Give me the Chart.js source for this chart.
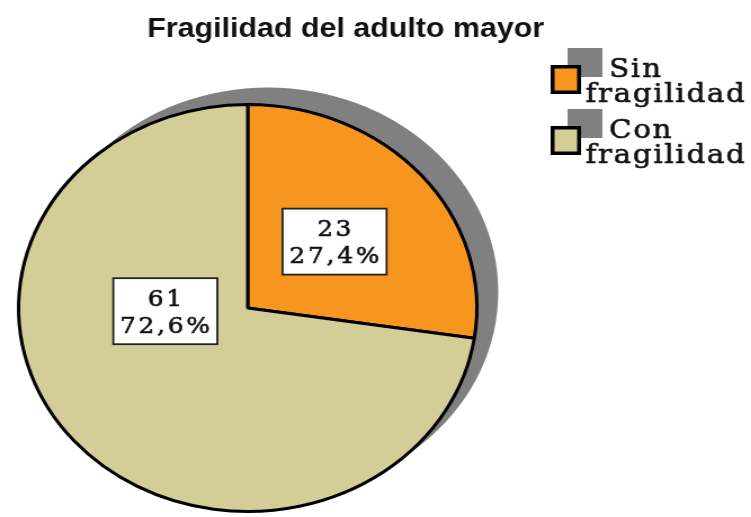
<!DOCTYPE html>
<html>
<head>
<meta charset="utf-8">
<script src="https://cdn.jsdelivr.net/npm/chart.js@4.4.0/dist/chart.umd.min.js"></script>
<style>
  html, body { margin: 0; padding: 0; background: #fff; overflow: hidden; }
  /* the reference is stretched sideways, so the whole chart is too */
  #wrap { width: 667px; height: 517px; transform: scaleX(1.126); transform-origin: 0 0; }
</style>
</head>
<body>
<div id="wrap"><canvas id="fragChart"></canvas></div>
<script>
const chartTitle = 'Fragilidad del adulto mayor';
const categories = ['Sin fragilidad', 'Con fragilidad'];
const counts = [23, 61];
const sliceColors = ['#F7961E', '#D3CD98'];

const shadowGrey = '#808080';
const serif = '"DejaVu Serif", serif';

// where each value box sits: fraction of the radius, angle (null = middle of slice)
const labelPlacement = [
    { frac: 0.5, angle: null },
    { frac: 0.36, angle: 177.5 }
];

function pctText(v) {
    const total = counts.reduce((a, b) => a + b, 0);
    return (v / total * 100).toFixed(1).replace('.', ',') + '%';
}

// text a bit heavier than DejaVu Serif Book
function heavyText(ctx, t, x, y) {
    ctx.fillText(t, x, y);
    ctx.strokeText(t, x, y);
}

const shadowPlugin = {
    id: 'pieShadow',
    beforeDatasetsDraw(chart) {
        const arc = chart.getDatasetMeta(0).data[0];
        if (!arc) return;
        const ctx = chart.ctx;
        ctx.save();
        ctx.fillStyle = shadowGrey;
        ctx.beginPath();
        ctx.arc(arc.x + 18, arc.y - 16, arc.outerRadius + 1, 0, Math.PI * 2);
        ctx.fill();
        ctx.restore();
    }
};

const extrasPlugin = {
    id: 'extras',
    afterDraw(chart) {
        const ctx = chart.ctx;
        ctx.save();

        // title
        ctx.fillStyle = '#111';
        ctx.font = 'bold 27px "Liberation Sans", Arial, sans-serif';
        ctx.textAlign = 'center';
        ctx.textBaseline = 'alphabetic';
        ctx.fillText(chartTitle, 307, 37);

        // value boxes
        const meta = chart.getDatasetMeta(0);
        ctx.font = '22px ' + serif;
        ctx.letterSpacing = '2.5px';
        meta.data.forEach((arc, i) => {
            const p = labelPlacement[i];
            const mid = p.angle === null ? (arc.startAngle + arc.endAngle) / 2 : p.angle * Math.PI / 180;
            const r = arc.outerRadius * p.frac;
            const cx = arc.x + Math.cos(mid) * r;
            const cy = arc.y + Math.sin(mid) * r;
            const lines = [String(counts[i]), pctText(counts[i])];
            const w = Math.max(...lines.map(t => ctx.measureText(t).width)) + 10;
            const h = 66;
            ctx.fillStyle = '#fff';
            ctx.fillRect(cx - w / 2, cy - h / 2, w, h);
            ctx.strokeStyle = '#222';
            ctx.lineWidth = 1.8;
            ctx.strokeRect(cx - w / 2, cy - h / 2, w, h);
            ctx.fillStyle = '#111';
            ctx.strokeStyle = '#111';
            ctx.lineWidth = 0.6;
            ctx.textAlign = 'center';
            ctx.textBaseline = 'middle';
            heavyText(ctx, lines[0], cx + 1, cy - 11);
            heavyText(ctx, lines[1], cx + 1, cy + 16);
        });

        // legend
        ctx.font = '26px ' + serif;
        ctx.letterSpacing = '1.5px';
        ctx.textAlign = 'left';
        ctx.textBaseline = 'alphabetic';
        chart.data.labels.forEach((lab, i) => {
            const y0 = 65 + i * 61;
            ctx.fillStyle = shadowGrey;
            ctx.fillRect(504, y0 - 17, 31, 29);
            ctx.fillStyle = chart.data.datasets[0].backgroundColor[i];
            ctx.fillRect(489, y0, 27, 29);
            ctx.strokeStyle = '#000';
            ctx.lineWidth = 3.5;
            ctx.strokeRect(490.75, y0 + 1.75, 23.5, 25.5);
            const parts = lab.split(' ');
            ctx.fillStyle = '#111';
            ctx.strokeStyle = '#111';
            ctx.lineWidth = 0.6;
            heavyText(ctx, parts[0], 541, y0 + 12);
            heavyText(ctx, parts.slice(1).join(' '), 520, y0 + 37);
        });
        ctx.restore();
    }
};

new Chart(document.getElementById('fragChart'), {
    type: 'pie',
    data: {
        labels: categories,
        datasets: [
            {
                data: counts,
                backgroundColor: sliceColors,
                borderColor: '#000',
                borderWidth: 3
            }
        ]
    },
    options: {
        responsive: true,
        maintainAspectRatio: false,
        animation: false,
        layout: {
            padding: { left: 15, right: 242, top: 103, bottom: 4 }
        },
        plugins: {
            legend: { display: false },
            title: { display: false },
            tooltip: { enabled: false }
        }
    },
    plugins: [shadowPlugin, extrasPlugin]
});
</script>
</body>
</html>
